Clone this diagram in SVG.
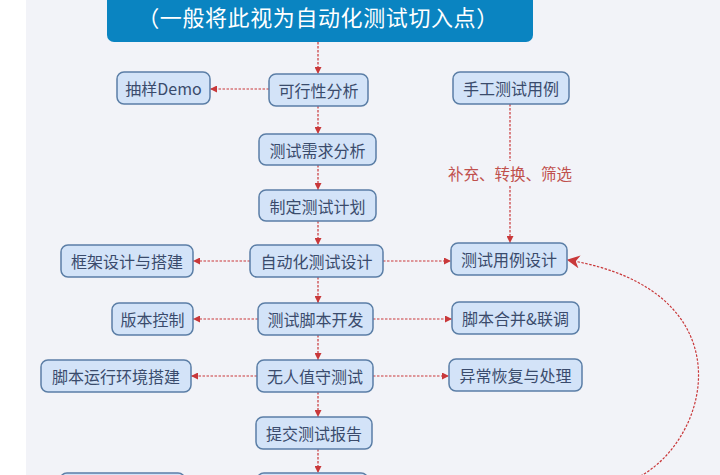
<svg xmlns="http://www.w3.org/2000/svg" width="720" height="475" viewBox="0 0 720 475">
<style>
.n rect{fill:#d3e3f8;stroke:#5b7ea6;stroke-width:1.5}
.n text{font-family:"Noto Sans CJK SC","Noto Sans",sans-serif;font-size:16px;fill:#3a4b6c;text-anchor:middle;dominant-baseline:central}
.c path{fill:none;stroke:#c9383a;stroke-width:1.2;stroke-dasharray:2.5 1.5}
.lbl{font-family:"Noto Sans CJK SC","Noto Sans",sans-serif;font-size:15.5px;fill:#c0504d;text-anchor:middle;dominant-baseline:central}
</style>
<defs>
<marker id="a" viewBox="0 0 10 10" refX="10" refY="5" markerWidth="7" markerHeight="7" markerUnits="userSpaceOnUse" orient="auto">
<path d="M0,0 L10,5 L0,10 z" fill="#c9383a"/>
</marker>
<marker id="b" viewBox="0 0 10 10" refX="9" refY="5" markerWidth="13" markerHeight="13" markerUnits="userSpaceOnUse" orient="auto">
<path d="M0,0 L10,5 L0,10 L3,5 z" fill="#c9383a"/>
</marker>
</defs>
<rect x="0" y="0" width="720" height="475" fill="#ffffff"/>
<rect x="26" y="0" width="694" height="475" fill="#f2f3f8"/>
<g id="banner">
<rect x="107" y="-10" width="426" height="52" rx="7" fill="#0a84c1"/>
<text x="318" y="16" font-family="Noto Sans CJK SC,sans-serif" font-size="22" letter-spacing="0.6" fill="#ffffff" text-anchor="middle" dominant-baseline="central">（一般将此视为自动化测试切入点）</text>
</g>
<g class="c">
<path d="M318,42 V74" marker-end="url(#a)"/>
<path d="M269,89 H210" marker-end="url(#a)"/>
<path d="M318,106 V134" marker-end="url(#a)"/>
<path d="M318,165 V190" marker-end="url(#a)"/>
<path d="M318,221 V245" marker-end="url(#a)"/>
<path d="M250,261 H193" marker-end="url(#a)"/>
<path d="M383,261 H451" marker-end="url(#a)"/>
<path d="M510,104 V161 M510,186 V243" marker-end="url(#a)"/>
<path d="M318,277 V303" marker-end="url(#a)"/>
<path d="M258,319 H193" marker-end="url(#a)"/>
<path d="M373,319 H452" marker-end="url(#a)"/>
<path d="M318,335 V360" marker-end="url(#a)"/>
<path d="M257,376 H191" marker-end="url(#a)"/>
<path d="M373,376 H449" marker-end="url(#a)"/>
<path d="M318,392 V417" marker-end="url(#a)"/>
<path d="M318,449 V473" marker-end="url(#a)"/>
<path d="M637,478 C712,440 748,290 568,260" stroke-width="1.6" stroke-dasharray="2 1.5" marker-end="url(#b)"/>
</g>
<text class="lbl" x="510" y="173">补充、转换、筛选</text>
<g id="n1" class="n"><rect x="117" y="72" width="93" height="32" rx="7"/><text x="163.5" y="88">抽样Demo</text></g>
<g id="n2" class="n"><rect x="269" y="74" width="99" height="32" rx="7"/><text x="318.5" y="90">可行性分析</text></g>
<g id="n3" class="n"><rect x="259" y="134" width="117" height="31" rx="7"/><text x="317.5" y="149.5">测试需求分析</text></g>
<g id="n4" class="n"><rect x="259" y="190" width="117" height="31" rx="7"/><text x="317.5" y="205.5">制定测试计划</text></g>
<g id="n5" class="n"><rect x="250" y="245" width="133" height="32" rx="7"/><text x="316.5" y="261">自动化测试设计</text></g>
<g id="n6" class="n"><rect x="61" y="245" width="132" height="32" rx="7"/><text x="127" y="261">框架设计与搭建</text></g>
<g id="n7" class="n"><rect x="258" y="303" width="115" height="32" rx="7"/><text x="315.5" y="319">测试脚本开发</text></g>
<g id="n8" class="n"><rect x="112" y="303" width="81" height="32" rx="7"/><text x="152.5" y="319">版本控制</text></g>
<g id="n9" class="n"><rect x="453" y="72" width="116" height="32" rx="7"/><text x="511" y="88">手工测试用例</text></g>
<g id="n10" class="n"><rect x="451" y="243" width="116" height="32" rx="7"/><text x="509" y="259">测试用例设计</text></g>
<g id="n11" class="n"><rect x="452" y="302" width="127" height="32" rx="7"/><text x="515.5" y="318">脚本合并&amp;联调</text></g>
<g id="n12" class="n"><rect x="449" y="359" width="133" height="32" rx="7"/><text x="515.5" y="375">异常恢复与处理</text></g>
<g id="n13" class="n"><rect x="257" y="360" width="116" height="32" rx="7"/><text x="315" y="376">无人值守测试</text></g>
<g id="n14" class="n"><rect x="41" y="360" width="150" height="32" rx="7"/><text x="116" y="376">脚本运行环境搭建</text></g>
<g id="n15" class="n"><rect x="256" y="417" width="116" height="32" rx="7"/><text x="314" y="433">提交测试报告</text></g>
<g id="n16" class="n"><rect x="60" y="473" width="125" height="32" rx="7"/></g>
<g id="n17" class="n"><rect x="257" y="473" width="111" height="32" rx="7"/></g>
</svg>
